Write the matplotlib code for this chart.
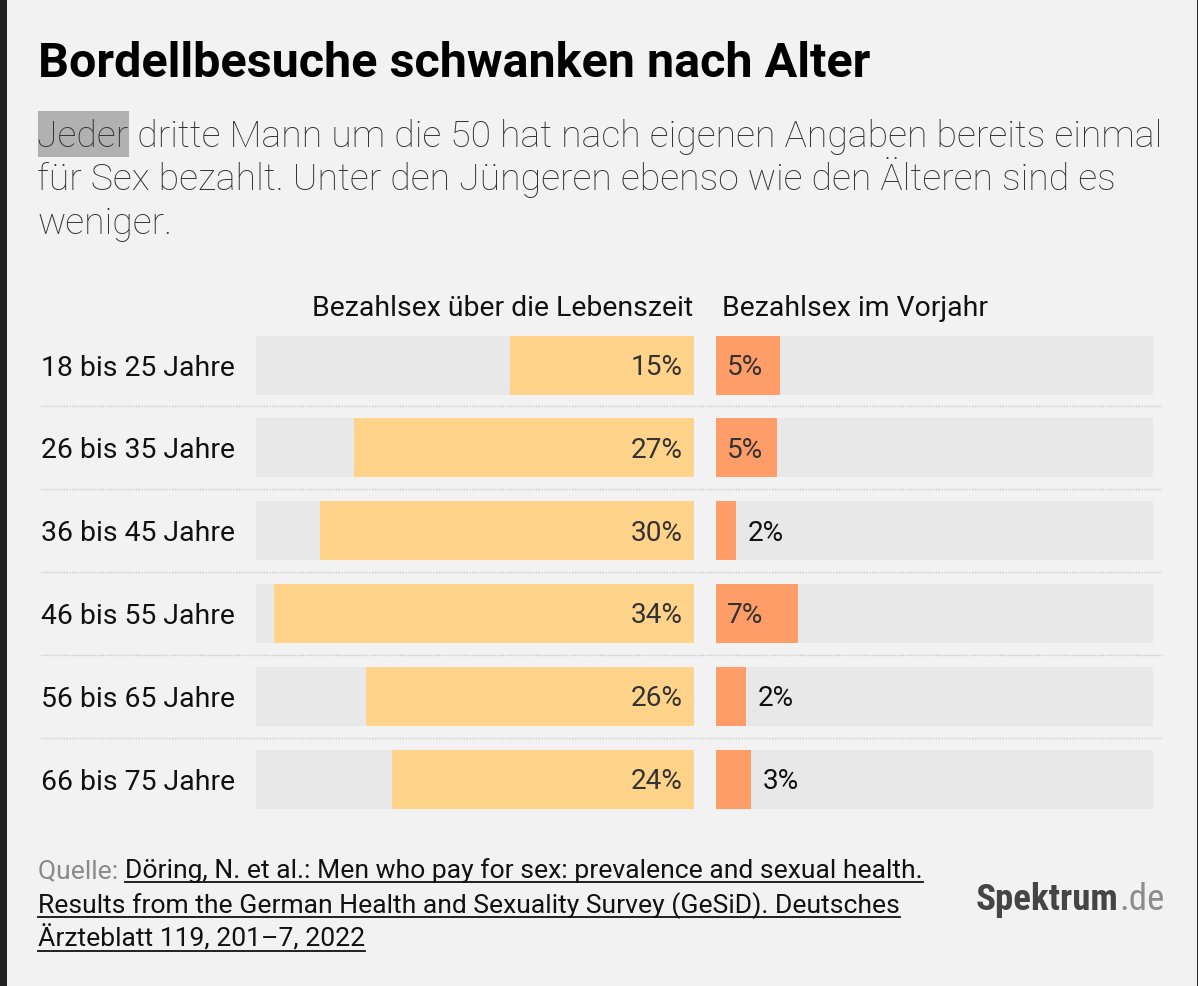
import matplotlib
matplotlib.use('Agg')
import matplotlib.pyplot as plt
from matplotlib.patches import Rectangle
from matplotlib.lines import Line2D
from matplotlib import font_manager as fm

# ---------------- data ----------------
categories = ['18 bis 25 Jahre', '26 bis 35 Jahre', '36 bis 45 Jahre',
              '46 bis 55 Jahre', '56 bis 65 Jahre', '66 bis 75 Jahre']
lifetime = [14.7, 27.2, 29.9, 33.6, 26.2, 24.1]
last_year = [5.1, 4.9, 1.6, 6.6, 2.4, 2.8]
lifetime_labels = ['15%', '27%', '30%', '34%', '26%', '24%']
last_year_labels = ['5%', '5%', '2%', '7%', '2%', '3%']
scale_max = 35
header_left = 'Bezahlsex über die Lebenszeit'
header_right = 'Bezahlsex im Vorjahr'
title = 'Bordellbesuche schwanken nach Alter'
subtitle_lines = ['Jeder dritte Mann um die 50 hat nach eigenen Angaben bereits einmal',
                  'für Sex bezahlt. Unter den Jüngeren ebenso wie den Älteren sind es',
                  'weniger.']
source_lines = ['Döring, N. et al.: Men who pay for sex: prevalence and sexual health.',
                'Results from the German Health and Sexuality Survey (GeSiD). Deutsches',
                'Ärzteblatt 119, 201–7, 2022']

# ---------------- style ----------------
W, H = 1198, 986
BG = '#f2f2f2'
FONT = ['Roboto', 'DejaVu Sans']
plt.rcParams['font.family'] = FONT


def find_condensed(bold):
    prefs = ['Roboto Condensed', 'Liberation Sans Narrow', 'DejaVu Sans']
    best = None
    for pref in prefs:
        for f in fm.fontManager.ttflist:
            cond = ('Condensed' in f.fname or 'Narrow' in f.fname or
                    'Condensed' in f.name or 'Narrow' in f.name or
                    str(f.stretch) in ('condensed', 'semi-condensed', '75', '87'))
            if not cond or not f.name.startswith(pref.split()[0]):
                continue
            w = f.weight if isinstance(f.weight, int) else (700 if 'bold' in str(f.weight).lower() else 400)
            is_bold = w >= 600
            if is_bold == bold and 'Oblique' not in f.fname and 'Italic' not in f.fname:
                return f.fname
    return best


cond_bold = find_condensed(True)
cond_reg = find_condensed(False)

fig = plt.figure(figsize=(W / 100, H / 100), dpi=100, facecolor=BG)

ov = fig.add_axes([0, 0, 1, 1])
ov.set_xlim(0, W)
ov.set_ylim(H, 0)
ov.axis('off')
ov.set_zorder(0)


def px_rect(x0, y0, x1, y1):
    return [x0 / W, 1 - y1 / H, (x1 - x0) / W, (y1 - y0) / H]


# frame decorations
ov.add_patch(Rectangle((0, 0), 6.5, H, color='#1f2223', lw=0))
ov.add_patch(Rectangle((1196.5, 0), 1.5, H, color='#2a2a2a', lw=0))

# title & subtitle
ov.text(38, 77, title, fontsize=34.9, fontweight='bold', color='#000000', va='baseline', ha='left')
ov.add_patch(Rectangle((38, 111), 91, 46, color='#b1b1b1', lw=0))
sub_base = [147, 190.5, 234]
for line, yb in zip(subtitle_lines, sub_base):
    ov.text(37, yb, line, fontsize=26.95, fontweight='light', color='#333333', va='baseline', ha='left')

# headers
ov.text(693, 316, header_left, fontsize=20.4, color='#111111', va='baseline', ha='right')
ov.text(722, 316, header_right, fontsize=20.4, color='#111111', va='baseline', ha='left')

# ---------------- bar panels ----------------
row_top, row_bot = 323.6, 820.4
n = len(categories)
ypos = list(range(n))
bar_h = 59 / 82.8

sep = fig.add_axes(px_rect(41, row_top, 1162, row_bot))
sep.set_xlim(0, 1)
sep.set_ylim(n - 0.5, -0.5)
sep.axis('off')
sep.patch.set_alpha(0)
sep.set_zorder(1)
for i in range(n - 1):
    sep.axhline(i + 0.5, color='#c9c9c9', lw=1, linestyle=(0, (1, 1)))
for i, cat in enumerate(categories):
    sep.annotate(cat, xy=(0, i), xycoords=('axes fraction', 'data'), xytext=(0, -10.5),
                 textcoords='offset pixels', va='baseline', ha='left', fontsize=20.4, color='#111111')

axl = fig.add_axes(px_rect(256, row_top, 694, row_bot))
axl.set_xlim(scale_max, 0)
axl.set_ylim(n - 0.5, -0.5)
axl.axis('off')
axl.patch.set_alpha(0)
axl.set_zorder(2)
axl.barh(ypos, [scale_max] * n, height=bar_h, color='#e8e8e8', lw=0)
axl.barh(ypos, lifetime, height=bar_h, color='#ffd38a', lw=0)
for i, lab in enumerate(lifetime_labels):
    axl.annotate(lab, xy=(0, i), xytext=(-11, -10), textcoords='offset pixels',
                 va='baseline', ha='right', fontsize=20.2, color='#333333')

axr = fig.add_axes(px_rect(716, row_top, 1153, row_bot))
axr.set_xlim(0, scale_max)
axr.set_ylim(n - 0.5, -0.5)
axr.axis('off')
axr.patch.set_alpha(0)
axr.set_zorder(2)
axr.barh(ypos, [scale_max] * n, height=bar_h, color='#e8e8e8', lw=0)
axr.barh(ypos, last_year, height=bar_h, color='#ff9d68', lw=0)
for i, (v, lab) in enumerate(zip(last_year, last_year_labels)):
    if v >= 4:
        axr.annotate(lab, xy=(0, i), xytext=(11, -10), textcoords='offset pixels',
                     va='baseline', ha='left', fontsize=20.2, color='#333333')
    else:
        axr.annotate(lab, xy=(v, i), xytext=(12, -10), textcoords='offset pixels',
                     va='baseline', ha='left', fontsize=20.2, color='#111111')

# ---------------- source & logo ----------------
src_base = [878, 913, 946.7]
src_size = 19.05
q = ov.text(38, src_base[0], 'Quelle: ', fontsize=src_size, color='#8a8a8a', va='baseline', ha='left')
fig.canvas.draw()
renderer = fig.canvas.get_renderer()
qb = q.get_window_extent(renderer)
src_texts = []
x_start = [qb.x1, 38, 38]
for line, yb, xs in zip(source_lines, src_base, x_start):
    t = ov.text(xs, yb, line, fontsize=src_size, color='#111111', va='baseline', ha='left')
    src_texts.append((t, yb))

# logo: fit "Spektrum" into the reference width
logo_x, logo_base, logo_w = 976, 910, 143
if cond_bold:
    fp_b = fm.FontProperties(fname=cond_bold)
else:
    fp_b = fm.FontProperties(family=FONT, weight='bold')
if cond_reg:
    fp_r = fm.FontProperties(fname=cond_reg)
else:
    fp_r = fm.FontProperties(family=FONT, weight='light')
size = 28.0
logo1 = ov.text(logo_x, logo_base, 'Spektrum', fontproperties=fp_b, fontsize=size,
                color='#454545', va='baseline', ha='left')
fig.canvas.draw()
wcur = logo1.get_window_extent(renderer).width
size = min(28.0, size * logo_w / wcur)
logo1.set_fontsize(size)
fig.canvas.draw()
lb = logo1.get_window_extent(renderer)
ov.text(lb.x1 + 1, logo_base, '.de', fontproperties=fp_r, fontsize=size,
        color='#8c8c8c', va='baseline', ha='left')

for t, yb in src_texts:
    bb = t.get_window_extent(renderer)
    ov.add_line(Line2D([bb.x0, bb.x1], [yb + 3.8, yb + 3.8], color='#111111', lw=1.3))

fig.savefig('out.png', dpi=100, facecolor=BG)
